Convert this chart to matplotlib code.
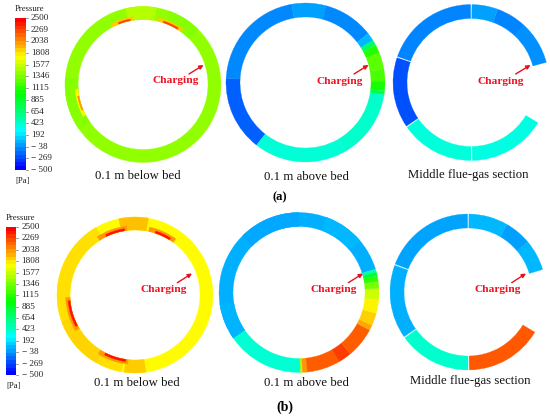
import numpy as np
import matplotlib
matplotlib.use("Agg")
import matplotlib.pyplot as plt
from matplotlib.colors import LinearSegmentedColormap, Normalize
from matplotlib.patches import Wedge

H = 417

# colour scale of the pressure legend
scale_labels = [2500, 2269, 2038, 1808, 1577, 1346, 1115, 885, 654, 423, 192, -38, -269, -500]

# sectors are (start angle, end angle, pressure), hot spots also have a depth
a1_base = [(0, 360, 1430), (80, 103, 1530), (45, 70, 1390), (175, 215, 1390)]
a1_hot = [(98, 118, 1900, 3.5), (101, 112, 2300, 1.8), (54, 77, 1900, 3.5), (58, 72, 2300, 1.8),
          (184, 208, 1750, 3), (190, 203, 2050, 1.5)]
a2_base = [(177, 232, -210), (100, 177, -90), (75, 100, -30), (38, 75, -100), (32, 38, 40),
           (28, 32, 700), (22, 28, 1100), (10, 22, 1260), (1, 10, 1220), (-6, 1, 1060),
           (-9, -6, 800), (-60, -9, 410), (232, 300, 370)]
a3_segments = [(15, 47, -70), (47, 70, -110), (70, 89.3, -30), (90.3, 160.5, -110),
               (161.5, 214, -265), (215, 270, 360), (271, 329, 340)]

b1_base = [(0, 360, 1760), (120, 260, 1840), (80, 102, 1930), (262, 278, 1900), (200, 240, 1870)]
b1_hot = [(97, 123, 2050, 4.5), (99, 116, 2450, 2.2), (54, 78, 2050, 4.5), (58, 72, 2450, 2.2),
          (182, 211, 2050, 4.5), (185, 208, 2450, 2.2), (238, 264, 2050, 4.5), (243, 262, 2450, 2.2)]
b2_base = [(17, 215, 20), (90, 135, 0), (40, 70, 50), (188, 215, 30),
           (215, 271, 390), (271, 272.5, 1500), (272.5, 276, 2050), (276, 300, 2230),
           (300, 310, 2320), (310, 332, 2230), (332, 336, 2000), (336, 345, 1890), (345, 355, 1780),
           (355, 363, 1600), (3, 8, 1350), (8, 12, 1130), (12, 15, 850), (15, 17, 500)]
b3_segments = [(16.8, 40, 40), (40, 60, -30), (60, 89.3, 40), (90.3, 159, -10),
               (160, 215, 20), (216, 270, 400), (271, 329, 2240)]

rings = [
    (143, 84.5, 78, 65, a1_base + a1_hot),
    (305.5, 82.5, 79.5, 65.5, a2_base),
    (471, 82.5, 78, 64, a3_segments),
    (135, 295, 78, 65, b1_base + b1_hot),
    (299, 292.5, 80, 66, b2_base),
    (468, 292, 78, 64, b3_segments),
]

captions = ["0.1 m below bed", "0.1 m above bed", "Middle flue-gas section"] * 2
caption_pos = [(138, 175.7), (306, 176.6), (468.3, 174.7), (137, 382.7), (306.5, 383), (470, 381.3)]
charge_text = [(175.3, 80.7), (340, 81.7), (501, 81.7), (163.3, 289.7), (334, 290), (497.3, 290)]
charge_tail = [(189, 74), (354, 74), (515.7, 74), (177.3, 282.7), (348.3, 282.7), (511.7, 282.7)]
charge_head = [(203.5, 65), (368.5, 65), (530.5, 65), (192, 273.5), (363, 273.5), (526, 273.5)]

cmap = LinearSegmentedColormap.from_list("rainbow_ansys", ["#0000ff", "#00ffff", "#00ff00", "#ffff00", "#ff0000"])
norm = Normalize(-500, 2500)

plt.rcParams['font.family'] = ['Liberation Serif', 'DejaVu Serif']
fig = plt.figure(figsize=(5.5, 4.17), dpi=100)
ax = fig.add_axes([0, 0, 1, 1])


def draw_ring(cx, cy, r_out, r_in, sectors):
    for s in sectors:
        col = cmap(norm(s[2]))
        r1 = r_out
        w = r_out - r_in
        if len(s) == 4:
            # hot spot that sits on the inner edge of the ring
            r1 = r_in + s[3]
            w = s[3]
        ax.add_patch(Wedge((cx, H - cy), r1, s[0], s[1], width=w, fc=col, ec=col, lw=0.2))


for cx, cy, r_out, r_in, sectors in rings:
    draw_ring(cx, cy, r_out, r_in, sectors)


def draw_legend(x0, x1, y0, y1, tx, title_xy, unit_xy):
    grad = np.linspace(2500, -500, 40).reshape(-1, 1)
    ax.imshow(grad, cmap=cmap, norm=norm, aspect='auto', extent=(x0, x1, H - y1, H - y0),
              interpolation='nearest')
    for v in scale_labels:
        y = y0 + (y1 - y0) * (2500 - v) / 3000
        ax.plot([x1, x1 + 1.5], [H - y, H - y], color='#444444', lw=0.4)
        lab = str(v) if v >= 0 else "\u2212 " + str(-v)
        ax.text(tx, H - y, lab, fontsize=6.6, ha='left', va='center', color='#222222')
    ax.text(title_xy[0], H - title_xy[1], "Pressure", fontsize=6.3, ha='left', va='center', color='#222222')
    ax.text(unit_xy[0], H - unit_xy[1], "[Pa]", fontsize=6.3, ha='left', va='center', color='#222222')


draw_legend(15, 26, 18, 170, 31, (15, 9), (15, 181))
draw_legend(6, 16, 227, 375, 21.5, (6, 218), (6, 386))

for name, pos in zip(captions, caption_pos):
    ax.text(pos[0], H - pos[1], name, fontsize=9.2, ha='center', va='center', color='#111111')

for t, tail, head in zip(charge_text, charge_tail, charge_head):
    ax.text(t[0], H - t[1], "Charging", fontsize=8.2, fontweight='bold', color='#f01020', ha='center', va='center')
    ax.annotate("", xy=(head[0], H - head[1]), xytext=(tail[0], H - tail[1]),
                arrowprops=dict(arrowstyle='-|>', color='#e8101c', lw=1.0, mutation_scale=6, shrinkA=0, shrinkB=0))

ax.text(280, H - 197.7, "(a)", fontsize=9, fontweight='bold', ha='center', va='center', color='black')
ax.text(285, H - 407, "(b)", fontsize=10, fontweight='bold', ha='center', va='center', color='black')

ax.set_xlim(0, 550)
ax.set_ylim(0, H)
ax.axis('off')
fig.savefig("out.png", dpi=100)
